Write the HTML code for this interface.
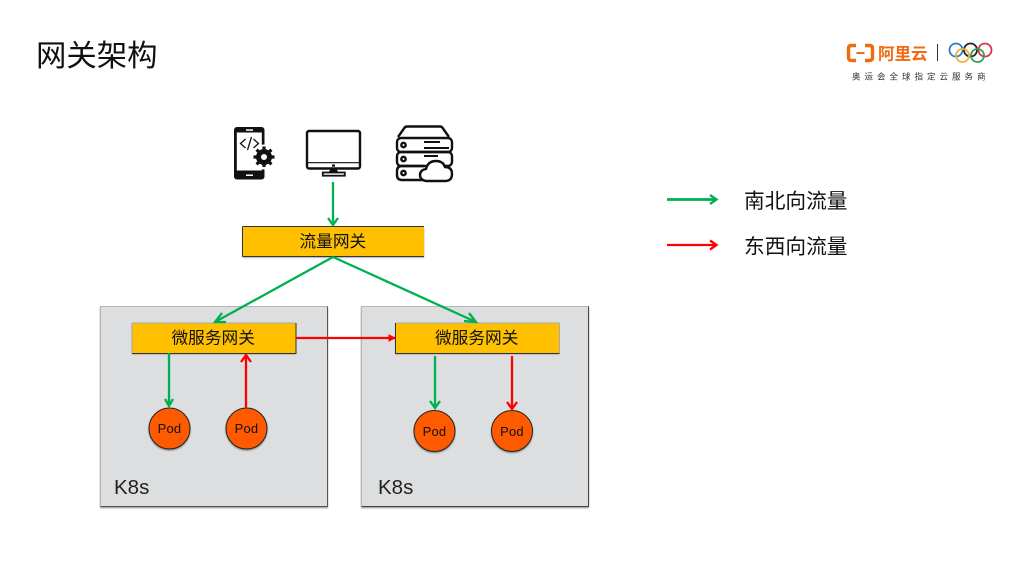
<!DOCTYPE html>
<html lang="zh">
<head>
<meta charset="utf-8">
<style>
html,body{margin:0;padding:0;background:#fff;width:1024px;height:576px;overflow:hidden}
svg{display:block}
text{font-family:"Liberation Sans","Noto Sans CJK SC",sans-serif;fill:#111}
.g{fill:none;stroke:#00b050;stroke-width:2.300}
.r{fill:none;stroke:#ff0000;stroke-width:2.300}
.ic{fill:none;stroke:#111;stroke-width:2.400}
</style>
</head>
<body>
<svg width="1024" height="576" viewBox="0 0 1024 576" xmlns="http://www.w3.org/2000/svg">
<defs>
<filter id="sh" x="-10%" y="-10%" width="120%" height="125%"><feDropShadow dx="0" dy="1.200" stdDeviation="0.900" flood-color="#000" flood-opacity="0.400"/></filter>
</defs>
<rect width="1024" height="576" fill="#fff"/>
<text x="36" y="66" font-size="30.400">网关架构</text>

<!-- logo -->
<g fill="none" stroke="#f26a0f" stroke-width="3.400">
<path d="M856 45.500h-4.500q-3 0-3 3v9q0 3 3 3h4.500"/>
<path d="M865 45.500h4.500q3 0 3 3v9q0 3-3 3h-4.500"/>
<path d="M856.500 53h8" stroke-width="2"/>
</g>
<text x="878" y="59.500" font-size="16.500" font-weight="bold" style="fill:#f26a0f">阿里云</text>
<path d="M937.500 44v17" stroke="#333" stroke-width="1"/>
<g fill="none" stroke-width="1.800">
<circle cx="956" cy="50" r="6.500" stroke="#2f7fc1"/>
<circle cx="970.500" cy="50" r="6.500" stroke="#222"/>
<circle cx="985" cy="50" r="6.500" stroke="#d9324a"/>
<circle cx="962.500" cy="55.500" r="6.500" stroke="#eeb23a"/>
<circle cx="977.500" cy="55.500" r="6.500" stroke="#2f9e57"/>
</g>
<text x="852" y="79.500" font-size="8.500" letter-spacing="4" style="fill:#333">奥运会全球指定云服务商</text>

<!-- phone icon -->
<rect x="234" y="127" width="30.500" height="52.500" rx="3" fill="#111"/>
<rect x="236.800" y="132.500" width="25" height="38" fill="#fff"/>
<rect x="246" y="129.300" width="7" height="1.500" fill="#fff"/>
<rect x="246" y="174.500" width="7" height="1.500" fill="#fff"/>
<path d="M245.500 139l-5 4.500 5 4.500M253.500 139l5 4.500-5 4.500M251.500 137l-4 13" fill="none" stroke="#111" stroke-width="1.300"/>
<circle cx="264" cy="157" r="12.500" fill="#fff"/>
<circle cx="264" cy="157" r="5.500" fill="none" stroke="#111" stroke-width="5"/>
<path d="M264 146.500v4M264 163v4M253.500 157h4M270.500 157h4M256.600 149.600l3 3M268.400 161.400l3 3M256.600 164.400l3-3M268.400 152.600l3-3" stroke="#111" stroke-width="3.200"/>

<!-- monitor icon -->
<rect x="307" y="131" width="53" height="37.500" rx="2" class="ic" stroke-width="2.200"/>
<path d="M307 162.700h53" stroke="#111" stroke-width="1.200"/>
<rect x="332" y="164.500" width="3" height="2.200" fill="#111"/>
<path d="M330.500 169h6l2 3.500h-10z" fill="#111"/>
<rect x="322.800" y="172.500" width="22" height="3.200" fill="#fff" stroke="#111" stroke-width="1.800"/>

<!-- server icon -->
<path d="M398 137l6-8.500q1-2 3-2h33q2 0 3 2l6 8.500" class="ic"/>
<rect x="397" y="138" width="55" height="14" rx="4" class="ic"/>
<rect x="397" y="152" width="55" height="14" rx="4" class="ic"/>
<path d="M426 180h-24q-5 0-5-5v-4q0-5 5-5h22" class="ic"/>
<circle cx="403.500" cy="145" r="2.200" class="ic"/>
<circle cx="403.500" cy="159" r="2.200" class="ic"/>
<circle cx="403.500" cy="173" r="2.200" class="ic"/>
<path d="M424 142h16M424 148h25M424 156h14" stroke="#111" stroke-width="2"/>
<path d="M426 181q-6-1-6-6 0-5 6-6 2-8 10-8 7 0 9 6 7 0 7 7 0 7-7 7z" fill="#fff" stroke="#111" stroke-width="2.400"/>

<!-- K8s boxes -->
<rect x="100.500" y="306.500" width="227" height="200" fill="#dcdee0" stroke="#b5b5b5" filter="url(#sh)"/>
<path d="M100.500 506.500h227v-200" fill="none" stroke="#555" stroke-width="1"/>
<rect x="361.500" y="306.500" width="227" height="200" fill="#dcdee0" stroke="#b5b5b5" filter="url(#sh)"/>
<path d="M361.500 506.500h227v-200" fill="none" stroke="#444" stroke-width="1"/>
<text x="114" y="494" font-size="20.500" style="fill:#222">K8s</text>
<text x="378" y="494" font-size="20.500" style="fill:#222">K8s</text>

<!-- gateways -->
<rect x="242.500" y="226.500" width="181.500" height="30" fill="#ffc000" filter="url(#sh)"/>
<path d="M242.500 226.500h181.500M242.500 226.500v30M242.500 256.500h181.500" fill="none" stroke="#333" stroke-width="1"/>
<text x="299.500" y="247" font-size="16.700">流量网关</text>

<rect x="132" y="323" width="163.500" height="30" fill="#ffc000" filter="url(#sh)"/>
<path d="M132 323h163.500" stroke="#aaa"/>
<path d="M132 323v30" stroke="#aaa"/>
<path d="M132 353.500h164v-30.500" fill="none" stroke="#333"/>
<text x="171.500" y="343.500" font-size="16.700">微服务网关</text>

<rect x="395.500" y="323" width="163.500" height="30" fill="#ffc000" filter="url(#sh)"/>
<path d="M395.500 323h164" stroke="#aaa"/>
<path d="M559.500 323v30.500" stroke="#aaa"/>
<path d="M395.500 323v30.500h164" fill="none" stroke="#333"/>
<text x="435" y="343.500" font-size="16.700">微服务网关</text>

<!-- pods -->
<g fill="#ff5a00" stroke="#222" stroke-width="1" filter="url(#sh)">
<circle cx="169.500" cy="428.500" r="20.500"/>
<circle cx="246.500" cy="428.500" r="20.500"/>
<circle cx="434.500" cy="431" r="20.500"/>
<circle cx="512" cy="431" r="20.500"/>
</g>
<g font-size="13" text-anchor="middle" style="letter-spacing:.2px">
<text x="169.500" y="433">Pod</text>
<text x="246.500" y="433">Pod</text>
<text x="434.500" y="436">Pod</text>
<text x="512" y="436">Pod</text>
</g>

<!-- green connectors -->
<path class="g" d="M333 182v43M328 218l5 7 5-7"/>
<path class="g" d="M333 257L215 322M222 313l-7 9 11 0"/>
<path class="g" d="M333 257L476 322M464 321l12 1-7-9"/>
<path class="g" d="M169 353v53M165 399l4 7 4-7"/>
<path class="g" d="M435 356v52M430 401l5 7 5-7"/>

<!-- red connectors -->
<path class="r" d="M296 338h99"/>
<path d="M389 335l6 3-6 3z" fill="#ff0000" stroke="#ff0000"/>
<path class="r" d="M246 408v-53M241 362l5-7 5 7"/>
<path class="r" d="M512 356v53M507 402l5 7 5-7"/>

<!-- legend -->
<path d="M667 199.500h49" stroke="#00b050" stroke-width="2.800" fill="none"/>
<path d="M710 195l6.500 4.500-6.500 4.500" stroke="#00b050" stroke-width="2.300" fill="none"/>
<path d="M667 245h49" stroke="#ff0000" stroke-width="2.300" fill="none"/>
<path d="M710 240.500l6.500 4.500-6.500 4.500" stroke="#ff0000" stroke-width="2.300" fill="none"/>
<text x="744" y="208" font-size="20.700">南北向流量</text>
<text x="744" y="253.500" font-size="20.700">东西向流量</text>
</svg>
</body>
</html>
